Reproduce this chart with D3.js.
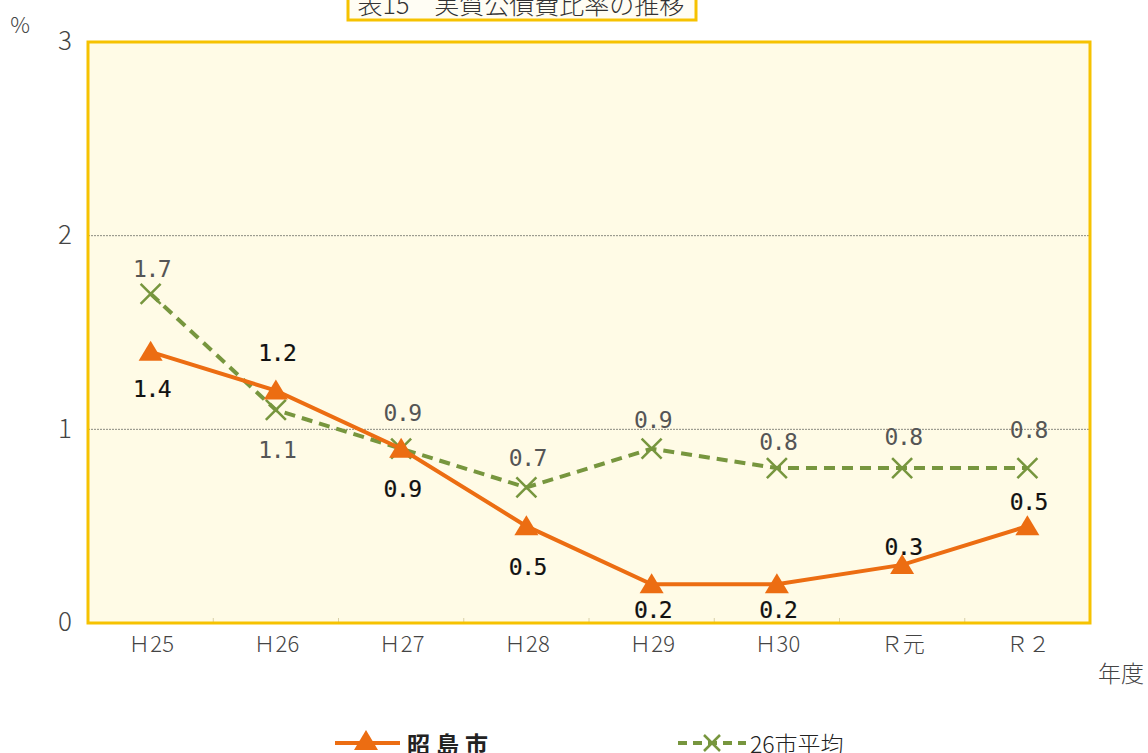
<!DOCTYPE html>
<html>
<head>
<meta charset="utf-8">
<script src="https://cdn.jsdelivr.net/npm/d3@7"></script>
<style>
  html, body { margin: 0; padding: 0; background: #ffffff; }
  svg { display: block; }
</style>
</head>
<body>
<svg id="chart" width="1148" height="753"></svg>
<script>
// Fiscal years and ratios (%)
const years = ["Ｈ25", "Ｈ26", "Ｈ27", "Ｈ28", "Ｈ29", "Ｈ30", "Ｒ元", "Ｒ２"];
const akishima = [1.4, 1.2, 0.9, 0.5, 0.2, 0.2, 0.3, 0.5];
const avg26 = [1.7, 1.1, 0.9, 0.7, 0.9, 0.8, 0.8, 0.8];
const yTicks = [0, 1, 2, 3];

// vertical offset of each value label's baseline from its point (layout only)
const akishimaLabelDy = [45, -30, 48, 49, 34, 34, -10, -16];
const avg26LabelDy = [-17, 48, -28, -21, -21, -18, -23, -30];

const svg = d3.select("#chart");
const plot = { left: 88, right: 1090, top: 42, bottom: 623 };
const orange = "#ec6d12";
const green = "#77963e";
const gold = "#f6c200";
const jpFont = "'Noto Sans CJK JP', 'Noto Sans', sans-serif";
const monoFont = "'DejaVu Sans Mono', monospace";

const x = d3.scalePoint().domain(years).range([plot.left, plot.right]).padding(0.5);
const band = d3.scaleBand().domain(years).range([plot.left, plot.right]);
const y = d3.scaleLinear().domain([0, 3]).range([plot.bottom, plot.top]);

// title box
svg.append("rect").attr("x", 348).attr("y", -8).attr("width", 348).attr("height", 28)
  .attr("fill", "#fffdf4").attr("stroke", gold).attr("stroke-width", 3);
svg.append("text").attr("x", 521).attr("y", 14).attr("text-anchor", "middle")
  .attr("font-family", jpFont).attr("font-weight", 300).attr("font-size", 25).attr("fill", "#333")
  .text("表15　実質公債費比率の推移");

// plot background
svg.append("rect").attr("x", plot.left).attr("y", plot.top)
  .attr("width", plot.right - plot.left).attr("height", plot.bottom - plot.top)
  .attr("fill", "#fffbe6");

// grid lines
svg.append("g").selectAll("line").data(yTicks.filter(d => d > 0 && d < 3)).join("line")
  .attr("x1", plot.left).attr("x2", plot.right)
  .attr("y1", d => y(d)).attr("y2", d => y(d))
  .attr("stroke", "#8a8a80").attr("stroke-width", 1).attr("stroke-dasharray", "2,1");

// category separator ticks along the bottom
svg.append("g").selectAll("line").data(years.slice(1)).join("line")
  .attr("x1", d => band(d)).attr("x2", d => band(d))
  .attr("y1", plot.bottom).attr("y2", plot.bottom - 5)
  .attr("stroke", "#d8d0a8").attr("stroke-width", 1);

// plot border
svg.append("rect").attr("x", plot.left).attr("y", plot.top)
  .attr("width", plot.right - plot.left).attr("height", plot.bottom - plot.top)
  .attr("fill", "none").attr("stroke", gold).attr("stroke-width", 3);

// y axis labels
const yAxis = d3.axisLeft(y).tickValues(yTicks).tickSize(0).tickPadding(18).tickFormat(d3.format("d"));
const gy = svg.append("g").attr("transform", `translate(${plot.left},0)`).call(yAxis);
gy.select(".domain").remove();
gy.selectAll("text").attr("font-family", jpFont).attr("font-weight", 300)
  .attr("font-size", 26).attr("fill", "#444").attr("dy", "0.3em").attr("text-anchor", "middle")
  .attr("x", -23);

svg.append("text").attr("x", 20).attr("y", 33).attr("text-anchor", "middle")
  .attr("font-family", jpFont).attr("font-weight", 300).attr("font-size", 22).attr("fill", "#444").text("%");

// x axis labels
const xAxis = d3.axisBottom(x).tickSize(0).tickPadding(13);
const gx = svg.append("g").attr("transform", `translate(0,${plot.bottom})`).call(xAxis);
gx.select(".domain").remove();
gx.selectAll("text").attr("font-family", jpFont).attr("font-weight", 300)
  .attr("font-size", 22).attr("fill", "#444");

svg.append("text").attr("x", 1121).attr("y", 682).attr("text-anchor", "middle")
  .attr("font-family", jpFont).attr("font-weight", 300).attr("font-size", 23).attr("fill", "#444").text("年度");

// series lines
const line = d3.line().x((d, i) => x(years[i])).y(d => y(d));

svg.append("path").datum(avg26).attr("d", line).attr("fill", "none")
  .attr("stroke", green).attr("stroke-width", 4).attr("stroke-dasharray", "11,7");

const crossPath = s => `M${-s},${-s}L${s},${s}M${-s},${s}L${s},${-s}`;
svg.append("g").selectAll("path").data(avg26).join("path")
  .attr("transform", (d, i) => `translate(${x(years[i])},${y(d)})`)
  .attr("d", crossPath(10)).attr("stroke", green).attr("stroke-width", 2.5).attr("fill", "none");

svg.append("path").datum(akishima).attr("d", line).attr("fill", "none")
  .attr("stroke", orange).attr("stroke-width", 4);

const triPath = "M0,-11L12,9L-12,9Z";
svg.append("g").selectAll("path").data(akishima).join("path")
  .attr("transform", (d, i) => `translate(${x(years[i])},${y(d)})`)
  .attr("d", triPath).attr("fill", orange);

// value labels
svg.append("g").selectAll("text").data(avg26).join("text")
  .attr("x", (d, i) => x(years[i]) + 1)
  .attr("y", (d, i) => y(d) + avg26LabelDy[i])
  .attr("text-anchor", "middle").attr("font-family", monoFont)
  .attr("font-size", 23).attr("fill", "#555").attr("letter-spacing", "-1.5")
  .text(d => d3.format(".1f")(d));

svg.append("g").selectAll("text").data(akishima).join("text")
  .attr("x", (d, i) => x(years[i]) + 1)
  .attr("y", (d, i) => y(d) + akishimaLabelDy[i])
  .attr("text-anchor", "middle").attr("font-family", monoFont)
  .attr("font-size", 23).attr("fill", "#111").attr("stroke", "#111").attr("stroke-width", 0.2)
  .attr("letter-spacing", "-1.5")
  .text(d => d3.format(".1f")(d));

// legend
const lg = svg.append("g");
lg.append("line").attr("x1", 335).attr("x2", 400).attr("y1", 743).attr("y2", 743)
  .attr("stroke", orange).attr("stroke-width", 4);
lg.append("path").attr("transform", "translate(366,741)").attr("d", triPath).attr("fill", orange);
lg.append("text").attr("x", 407).attr("y", 753).attr("font-family", jpFont).attr("font-weight", 700)
  .attr("font-size", 23).attr("fill", "#222").attr("letter-spacing", "6").text("昭島市");

lg.append("line").attr("x1", 678).attr("x2", 746).attr("y1", 743).attr("y2", 743)
  .attr("stroke", green).attr("stroke-width", 4).attr("stroke-dasharray", "9,6");
lg.append("path").attr("transform", "translate(712,743)").attr("d", crossPath(8))
  .attr("stroke", green).attr("stroke-width", 2.5).attr("fill", "none");
lg.append("text").attr("x", 750).attr("y", 753).attr("font-family", jpFont).attr("font-weight", 300)
  .attr("font-size", 23).attr("fill", "#222").text("26市平均");
</script>
</body>
</html>
